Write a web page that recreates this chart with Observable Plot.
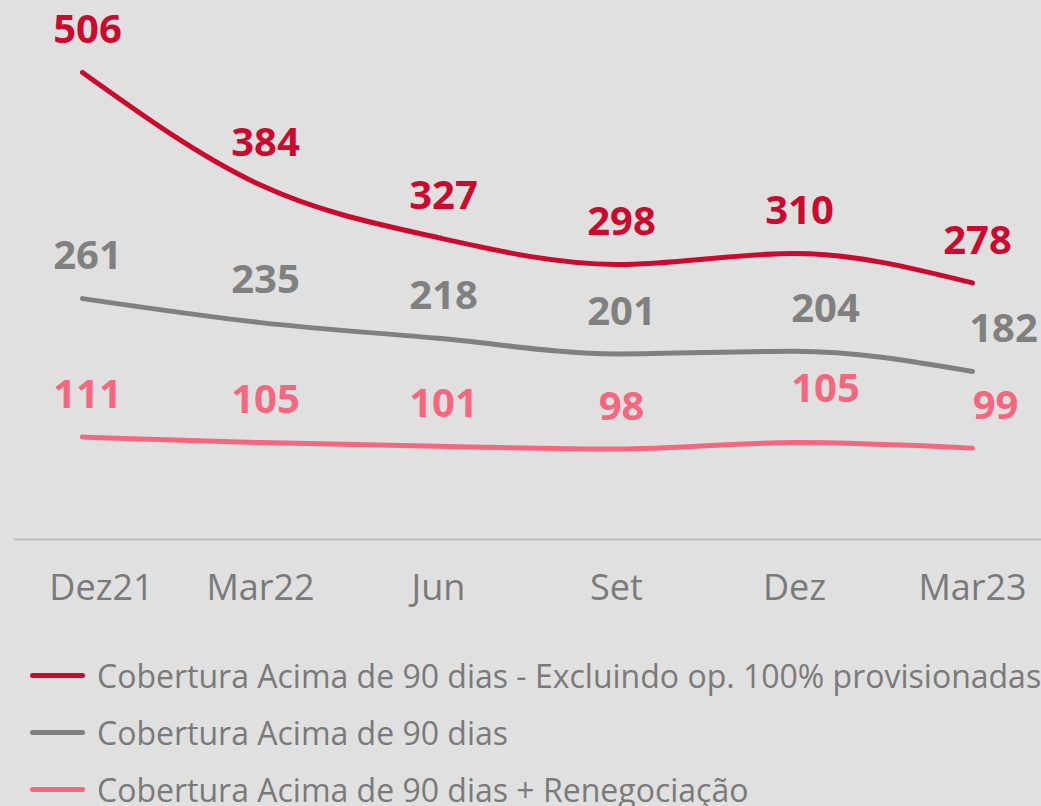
<!DOCTYPE html>
<html>
<head>
<meta charset="utf-8">
<script src="https://cdn.jsdelivr.net/npm/d3@7"></script>
<script src="https://cdn.jsdelivr.net/npm/@observablehq/plot@0.6"></script>
<style>
  html, body { margin: 0; padding: 0; background: #e0e0e0; overflow: hidden; width: 1041px; height: 806px; }
  #chart svg { display: block; }
  .legend { font-family: "Open Sans", sans-serif; font-size: 32px; color: #7a7a7a; white-space: nowrap; }
  .legend .item { position: absolute; left: 30px; height: 40px; display: flex; align-items: center; }
  .legend .sw { width: 55px; height: 5px; border-radius: 3px; margin-right: 12px; }
</style>
</head>
<body>
<div id="chart"></div>
<div class="legend" id="legend"></div>
<script>
const periods = ["Dez21", "Mar22", "Jun", "Set", "Dez", "Mar23"];
const seriesNames = [
  "Cobertura Acima de 90 dias - Excluindo op. 100% provisionadas",
  "Cobertura Acima de 90 dias",
  "Cobertura Acima de 90 dias + Renegociação"
];
const excluindo = [506, 384, 327, 298, 310, 278];
const acima90 = [261, 235, 218, 201, 204, 182];
const renegociacao = [111, 105, 101, 98, 105, 99];
const colors = ["#cc0a2f", "#808080", "#f4677e"];

const valuesBySeries = [excluindo, acima90, renegociacao];
const rows = [];
valuesBySeries.forEach((vals, s) => {
  vals.forEach((v, i) => rows.push({series: seriesNames[s], period: periods[i], value: v, s, i}));
});

// label offset tweaks (styling)
function off(d) {
  let dx = 5, dy = -42;
  if (d.s === 1 && d.i >= 4) dx = 31;
  if (d.s === 2 && d.i === 4) { dx = 31; dy = -53; }
  if (d.s === 2 && d.i === 5) dx = 23;
  return {dx, dy};
}
const groups = d3.groups(rows, d => { const o = off(d); return o.dx + "," + o.dy; });

const chart = Plot.plot({
  width: 1041,
  height: 620,
  marginLeft: 14,
  marginRight: 0,
  marginTop: 72,
  marginBottom: 81,
  style: {background: "transparent", fontFamily: "Open Sans, sans-serif"},
  x: {type: "point", domain: periods, range: [82, 972], padding: 0, label: null},
  y: {domain: [0, 506], axis: null},
  color: {domain: seriesNames, range: colors},
  marks: [
    Plot.ruleY([0], {stroke: "#bdbdbd", strokeWidth: 2}),
    Plot.axisX({ticks: ["Dez21"], tickSize: 0, tickPadding: 35, fontSize: 36, dx: 19, color: "#7a7a7a", label: null}),
    Plot.axisX({ticks: periods.slice(1), tickSize: 0, tickPadding: 35, fontSize: 36, color: "#7a7a7a", label: null}),
    Plot.lineY(rows, {x: "period", y: "value", z: "series", stroke: "series", strokeWidth: 5, curve: "monotone-x", strokeLinecap: "round"}),
    ...groups.map(([key, data]) => {
      const [dx, dy] = key.split(",").map(Number);
      return Plot.text(data, {x: "period", y: "value", text: d => String(d.value), fill: "series", dx, dy, fontSize: 40, fontWeight: "bold"});
    })
  ]
});
document.getElementById("chart").appendChild(chart);

const legend = document.getElementById("legend");
seriesNames.forEach((name, k) => {
  const item = document.createElement("div");
  item.className = "item";
  item.style.top = (655 + k * 57) + "px";
  const sw = document.createElement("div");
  sw.className = "sw";
  sw.style.background = colors[k];
  const t = document.createElement("span");
  t.textContent = name;
  item.appendChild(sw);
  item.appendChild(t);
  legend.appendChild(item);
});
</script>
</body>
</html>
